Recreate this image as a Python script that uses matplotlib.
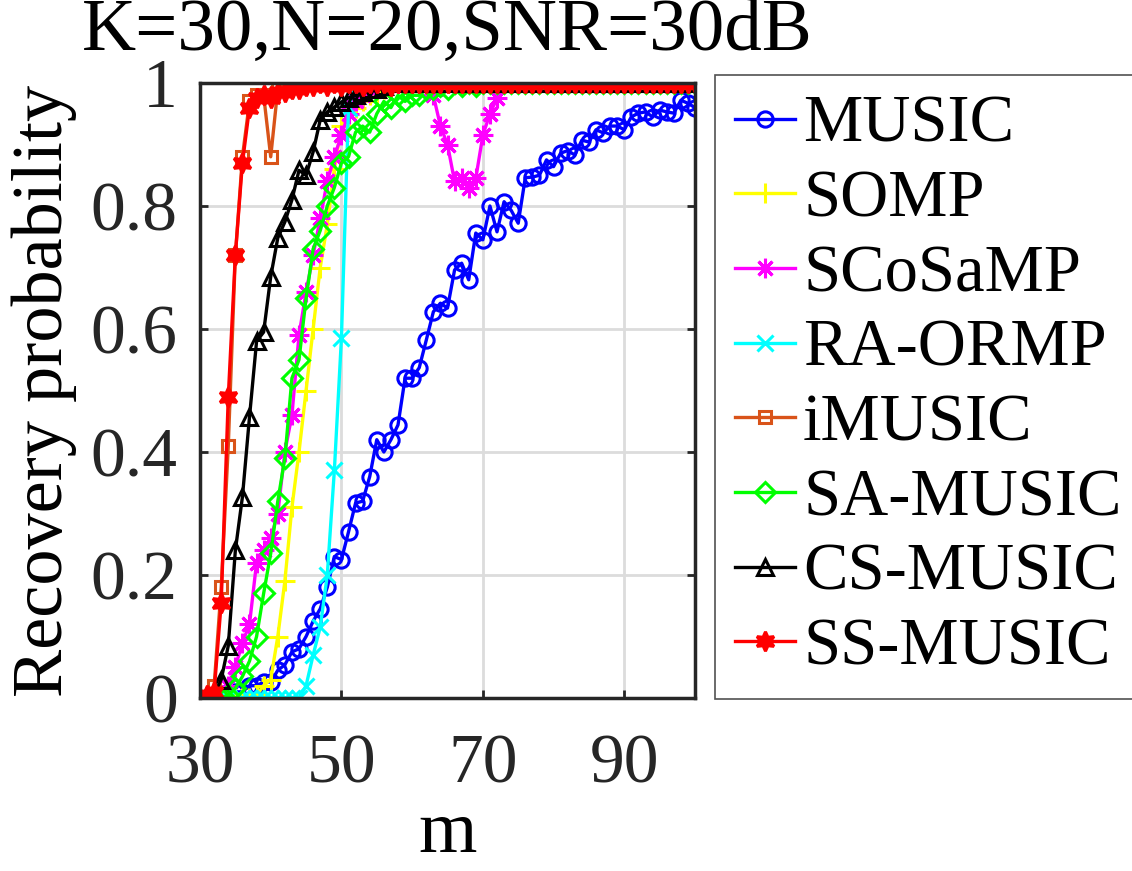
import numpy as np
import matplotlib
matplotlib.use("Agg")
import matplotlib.pyplot as plt

plt.rcParams['font.family'] = ['Liberation Serif', 'DejaVu Serif']

m = np.arange(31, 101)

music = [0.00, 0.00, 0.00, 0.005, 0.01, 0.01, 0.02, 0.02, 0.026, 0.026,
         0.045, 0.054, 0.075, 0.08, 0.10, 0.125, 0.145, 0.18, 0.23, 0.225,
         0.27, 0.317, 0.32, 0.36, 0.42, 0.40, 0.42, 0.444, 0.52, 0.52,
         0.537, 0.582, 0.628, 0.642, 0.634, 0.696, 0.707, 0.68, 0.756, 0.745,
         0.80, 0.758, 0.807, 0.793, 0.772, 0.846, 0.847, 0.85, 0.875, 0.864,
         0.886, 0.89, 0.883, 0.907, 0.904, 0.924, 0.919, 0.93, 0.93, 0.924,
         0.945, 0.951, 0.953, 0.945, 0.956, 0.953, 0.951, 0.972, 0.967, 0.96]

somp = [0.00, 0.00, 0.00, 0.00, 0.00, 0.00, 0.00, 0.005, 0.02, 0.03,
        0.10, 0.19, 0.31, 0.40, 0.50, 0.60, 0.70, 0.77, 0.86, 0.93,
        0.95, 0.96, 0.97, 0.98, 0.98, 0.99, 0.99, 1.00, 1.00, 1.00,
        1.00, 1.00, 1.00, 1.00, 1.00, 1.00, 1.00, 1.00, 1.00, 1.00,
        1.00, 1.00, 1.00, 1.00, 1.00, 1.00, 1.00, 1.00, 1.00, 1.00,
        1.00, 1.00, 1.00, 1.00, 1.00, 1.00, 1.00, 1.00, 1.00, 1.00,
        1.00, 1.00, 1.00, 1.00, 1.00, 1.00, 1.00, 1.00, 1.00, 1.00]

scosamp = [0.00, 0.00, 0.005, 0.02, 0.05, 0.09, 0.12, 0.22, 0.24, 0.26,
           0.30, 0.40, 0.46, 0.59, 0.66, 0.72, 0.78, 0.84, 0.88, 0.915,
           0.95, 0.97, 0.98, 0.99, 1.00, 1.00, 1.00, 1.00, 1.00, 1.00,
           1.00, 1.00, 0.98, 0.93, 0.90, 0.84, 0.845, 0.83, 0.845, 0.915,
           0.95, 0.975, 1.00, 1.00, 1.00, 1.00, 1.00, 1.00, 1.00, 1.00,
           1.00, 1.00, 1.00, 1.00, 1.00, 1.00, 1.00, 1.00, 1.00, 1.00,
           1.00, 1.00, 1.00, 1.00, 1.00, 1.00, 1.00, 1.00, 1.00, 1.00]

raormp = [0.00, 0.00, 0.00, 0.00, 0.00, 0.00, 0.00, 0.00, 0.00, 0.00,
          0.00, 0.00, 0.00, 0.00, 0.02, 0.07, 0.115, 0.20, 0.37, 0.585,
          0.96, 1.00, 1.00, 1.00, 1.00, 1.00, 1.00, 1.00, 1.00, 1.00,
          1.00, 1.00, 1.00, 1.00, 1.00, 1.00, 1.00, 1.00, 1.00, 1.00,
          1.00, 1.00, 1.00, 1.00, 1.00, 1.00, 1.00, 1.00, 1.00, 1.00,
          1.00, 1.00, 1.00, 1.00, 1.00, 1.00, 1.00, 1.00, 1.00, 1.00,
          1.00, 1.00, 1.00, 1.00, 1.00, 1.00, 1.00, 1.00, 1.00, 1.00]

imusic = [0.00, 0.02, 0.18, 0.41, 0.72, 0.88, 0.97, 0.98, 0.98, 0.88,
          0.99, 1.00, 1.00, 1.00, 1.00, 1.00, 1.00, 1.00, 1.00, 1.00,
          1.00, 1.00, 1.00, 1.00, 1.00, 1.00, 1.00, 1.00, 1.00, 1.00,
          1.00, 1.00, 1.00, 1.00, 1.00, 1.00, 1.00, 1.00, 1.00, 1.00,
          1.00, 1.00, 1.00, 1.00, 1.00, 1.00, 1.00, 1.00, 1.00, 1.00,
          1.00, 1.00, 1.00, 1.00, 1.00, 1.00, 1.00, 1.00, 1.00, 1.00,
          1.00, 1.00, 1.00, 1.00, 1.00, 1.00, 1.00, 1.00, 1.00, 1.00]

samusic = [0.00, 0.00, 0.00, 0.005, 0.016, 0.035, 0.06, 0.10, 0.17, 0.235,
           0.32, 0.39, 0.52, 0.55, 0.65, 0.73, 0.76, 0.80, 0.83, 0.87,
           0.88, 0.92, 0.93, 0.92, 0.95, 0.97, 0.96, 0.98, 0.97, 0.98,
           0.98, 0.99, 0.99, 0.995, 0.99, 1.00, 0.995, 1.00, 0.995, 1.00,
           1.00, 1.00, 1.00, 1.00, 1.00, 1.00, 1.00, 1.00, 1.00, 1.00,
           1.00, 1.00, 1.00, 1.00, 1.00, 1.00, 1.00, 1.00, 1.00, 1.00,
           1.00, 1.00, 1.00, 1.00, 1.00, 1.00, 1.00, 1.00, 1.00, 1.00]

csmusic = [0.00, 0.005, 0.03, 0.085, 0.24, 0.327, 0.457, 0.58, 0.595, 0.685,
           0.748, 0.774, 0.81, 0.858, 0.85, 0.888, 0.94, 0.953, 0.961, 0.969,
           0.976, 0.98, 0.985, 0.99, 0.99, 0.995, 1.00, 1.00, 1.00, 1.00,
           1.00, 1.00, 1.00, 1.00, 1.00, 1.00, 1.00, 1.00, 1.00, 1.00,
           1.00, 1.00, 1.00, 1.00, 1.00, 1.00, 1.00, 1.00, 1.00, 1.00,
           1.00, 1.00, 1.00, 1.00, 1.00, 1.00, 1.00, 1.00, 1.00, 1.00,
           1.00, 1.00, 1.00, 1.00, 1.00, 1.00, 1.00, 1.00, 1.00, 1.00]

ssmusic = [0.005, 0.01, 0.155, 0.49, 0.72, 0.87, 0.96, 0.975, 0.98, 0.975,
           0.985, 0.985, 0.99, 0.99, 0.995, 0.995, 1.00, 0.995, 1.00, 0.995,
           1.00, 1.00, 0.995, 1.00, 1.00, 1.00, 0.995, 1.00, 1.00, 1.00,
           1.00, 1.00, 1.00, 1.00, 1.00, 1.00, 1.00, 1.00, 1.00, 1.00,
           1.00, 1.00, 1.00, 1.00, 1.00, 1.00, 1.00, 1.00, 1.00, 1.00,
           1.00, 1.00, 1.00, 1.00, 1.00, 1.00, 1.00, 1.00, 1.00, 1.00,
           1.00, 1.00, 1.00, 1.00, 1.00, 1.00, 1.00, 1.00, 1.00, 1.00]

labels = ['MUSIC', 'SOMP', 'SCoSaMP', 'RA-ORMP', 'iMUSIC', 'SA-MUSIC', 'CS-MUSIC', 'SS-MUSIC']
series = [music, somp, scosamp, raormp, imusic, samusic, csmusic, ssmusic]
colors = ['#0000ff', '#ffff00', '#ff00ff', '#00ffff', '#d95319', '#00ff00', '#000000', '#ff0000']
markers = ['o', '+', (8, 2, 0), 'x', 's', 'D', '^', (6, 1, 0)]
msizes = [11, 14, 14, 12, 9, 10, 12, 14]

xticks = [30, 50, 70, 90]
yticks = [0, 0.2, 0.4, 0.6, 0.8, 1.0]
yticklabels = ['0', '0.2', '0.4', '0.6', '0.8', '1']

fig = plt.figure(figsize=(11.32, 8.71), dpi=100)
ax = fig.add_axes([200/1132, 1-698/871, 495/1132, 615/871])

handles = []
for y, lab, c, mk, ms in zip(series, labels, colors, markers, msizes):
    h, = ax.plot(m, y, color=c, marker=mk, markersize=ms, linewidth=2.4,
                 markeredgewidth=2.2, markerfacecolor='none', label=lab)
    handles.append(h)
handles[-1].set_markerfacecolor('#ff0000')

ax.set_xlim(30, 100)
ax.set_ylim(0, 1)
ax.set_xticks(xticks)
ax.set_yticks(yticks)
ax.set_yticklabels(yticklabels)
ax.grid(True, color='#dcdcdc', linewidth=2.0)
ax.set_axisbelow(True)
ax.tick_params(direction='in', length=6, width=2, labelsize=50, colors='#262626',
               top=True, right=True)
ax.tick_params(axis='x', pad=26)
ax.tick_params(axis='y', pad=16)
for lbl in ax.get_xticklabels() + ax.get_yticklabels():
    lbl.set_color('#262626')
for s in ax.spines.values():
    s.set_color('#262626')
    s.set_linewidth(2.5)

ax.set_title('K=30,N=20,SNR=30dB', fontsize=54, pad=24)
ax.set_xlabel('m', fontsize=54, labelpad=2)
ax.set_ylabel('Recovery probability', fontsize=52, labelpad=10)

leg = fig.legend(handles=handles, labels=labels, loc='upper left',
                 bbox_to_anchor=(715/1132, 1-75/871), bbox_transform=fig.transFigure,
                 fontsize=48, frameon=True, fancybox=False, edgecolor='#262626',
                 handlelength=0.9, handletextpad=0.12, labelspacing=0.205,
                 borderpad=0.3, borderaxespad=0)
leg.get_frame().set_linewidth(1.2)

fig.savefig('out.png', dpi=100)
